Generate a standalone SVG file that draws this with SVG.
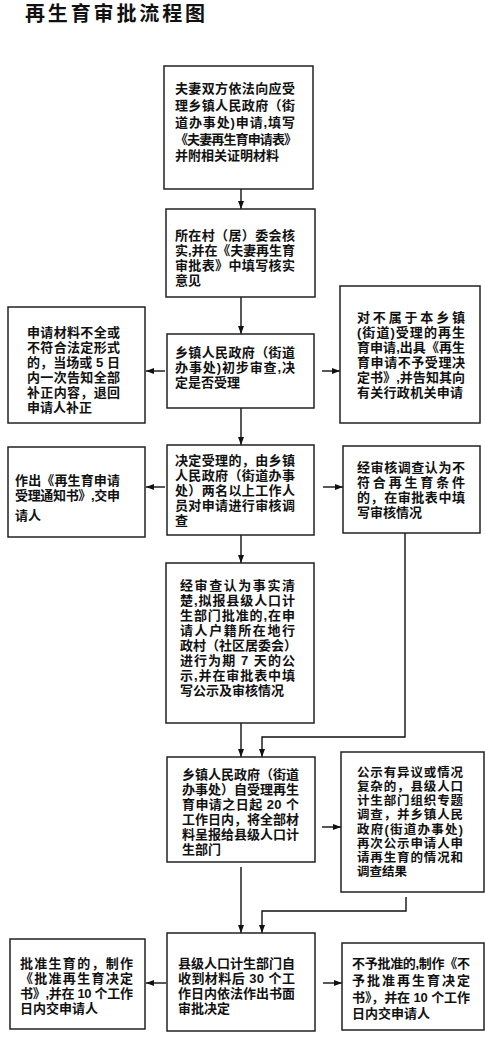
<svg xmlns="http://www.w3.org/2000/svg" width="485" height="1051" viewBox="0 0 485 1051">
<style>
.box{fill:#fff;stroke:#222;stroke-width:1.5}
.t{font-family:"Liberation Sans","Noto Sans CJK SC","Noto Sans CJK TC",sans-serif;font-weight:700;font-size:13px;fill:#111}
.s{font-size:12.5px}
.title{font-family:"Liberation Sans","Noto Sans CJK SC",sans-serif;font-weight:700;font-size:20px;fill:#111}
.c{fill:none;stroke:#111;stroke-width:1.4}
</style>
<defs>
<marker id="ah" markerUnits="userSpaceOnUse" markerWidth="8" markerHeight="6" refX="8" refY="3" orient="auto">
<path d="M0,0 L8,3 L0,6 z" fill="#111"/>
</marker>
</defs>
<rect width="485" height="1051" fill="#fff"/>
<text class="title" x="25" y="21" textLength="180">再生育审批流程图</text>

<g id="connectors">
<line class="c" x1="241" y1="189" x2="241" y2="209" marker-end="url(#ah)"/>
<line class="c" x1="241" y1="297" x2="241" y2="334" marker-end="url(#ah)"/>
<line class="c" x1="165" y1="371" x2="146" y2="371" marker-end="url(#ah)"/>
<line class="c" x1="322" y1="371" x2="340" y2="371" marker-end="url(#ah)"/>
<line class="c" x1="241" y1="408" x2="241" y2="445" marker-end="url(#ah)"/>
<line class="c" x1="165" y1="487" x2="146" y2="487" marker-end="url(#ah)"/>
<line class="c" x1="323" y1="487" x2="343" y2="487" marker-end="url(#ah)"/>
<line class="c" x1="241" y1="535" x2="241" y2="563" marker-end="url(#ah)"/>
<polyline class="c" points="405,533 405,737 262,737 262,757" marker-end="url(#ah)"/>
<line class="c" x1="241" y1="723" x2="241" y2="757" marker-end="url(#ah)"/>
<line class="c" x1="322" y1="827" x2="341" y2="827" marker-end="url(#ah)"/>
<line class="c" x1="241" y1="867" x2="241" y2="933" marker-end="url(#ah)"/>
<polyline class="c" points="406,897 406,911 262,911 262,933" marker-end="url(#ah)"/>
<line class="c" x1="166" y1="983" x2="146" y2="983" marker-end="url(#ah)"/>
<line class="c" x1="323" y1="983" x2="342" y2="983" marker-end="url(#ah)"/>
</g>

<g id="n1">
<rect class="box" x="164" y="66" width="149" height="123"/>
<text class="t"><tspan x="175" y="93" textLength="120">夫妻双方依法向应受</tspan><tspan x="175" y="110" textLength="120">理乡镇人民政府（街</tspan><tspan x="175" y="127" textLength="120">道办事处)申请,填写</tspan><tspan x="175" y="144" textLength="122">《夫妻再生育申请表》</tspan><tspan x="175" y="160">并附相关证明材料</tspan></text>
</g>

<g id="n2">
<rect class="box" x="166" y="209" width="149" height="88"/>
<text class="t"><tspan x="175" y="240" textLength="120">所在村（居）委会核</tspan><tspan x="175" y="255" textLength="120">实,并在《夫妻再生育</tspan><tspan x="175" y="270" textLength="120">审批表》中填写核实</tspan><tspan x="175" y="285">意见</tspan></text>
</g>

<g id="n3">
<rect class="box" x="167" y="334" width="147" height="74"/>
<text class="t"><tspan x="175" y="357" textLength="120">乡镇人民政府（街道</tspan><tspan x="175" y="372" textLength="120">办事处)初步审查,决</tspan><tspan x="175" y="387">定是否受理</tspan></text>
</g>

<g id="n3l">
<rect class="box" x="8" y="307" width="137" height="116"/>
<text class="t"><tspan x="27" y="337" textLength="93">申请材料不全或</tspan><tspan x="27" y="352" textLength="93">不符合法定形式</tspan><tspan x="27" y="367" textLength="93">的，当场或 5 日</tspan><tspan x="27" y="382" textLength="93">内一次告知全部</tspan><tspan x="27" y="397" textLength="93">补正内容，退回</tspan><tspan x="27" y="412">申请人补正</tspan></text>
</g>

<g id="n3r">
<rect class="box" x="340" y="286" width="140" height="137"/>
<text class="t"><tspan x="357" y="322" textLength="108">对不属于本乡镇</tspan><tspan x="357" y="337" textLength="108">(街道)受理的再生</tspan><tspan x="357" y="352" textLength="108">育申请,出具《再生</tspan><tspan x="357" y="367" textLength="108">育申请不予受理决</tspan><tspan x="357" y="382" textLength="108">定书》,并告知其向</tspan><tspan x="357" y="397" textLength="106">有关行政机关申请</tspan></text>
</g>

<g id="n4">
<rect class="box" x="167" y="445" width="147" height="90"/>
<text class="t"><tspan x="175" y="465" textLength="120">决定受理的，由乡镇</tspan><tspan x="175" y="480" textLength="120">人民政府（街道办事</tspan><tspan x="175" y="495" textLength="120">处）两名以上工作人</tspan><tspan x="175" y="510" textLength="120">员对申请进行审核调</tspan><tspan x="175" y="525">查</tspan></text>
</g>

<g id="n4l">
<rect class="box" x="8" y="447" width="137" height="90"/>
<text class="t"><tspan x="15" y="485" textLength="105">作出《再生育申请</tspan><tspan x="15" y="500" textLength="105">受理通知书》,交申</tspan><tspan x="15" y="520">请人</tspan></text>
</g>

<g id="n4r">
<rect class="box" x="343" y="446" width="137" height="87"/>
<text class="t"><tspan x="357" y="472" textLength="108">经审核调查认为不</tspan><tspan x="357" y="487" textLength="108">符合再生育条件</tspan><tspan x="357" y="502" textLength="108">的，在审批表中填</tspan><tspan x="357" y="517">写审核情况</tspan></text>
</g>

<g id="n5">
<rect class="box" x="166" y="563" width="148" height="160"/>
<text class="t"><tspan x="180" y="590" textLength="115">经审查认为事实清</tspan><tspan x="180" y="605" textLength="115">楚,拟报县级人口计</tspan><tspan x="180" y="620" textLength="115">生部门批准的,在申</tspan><tspan x="180" y="635" textLength="115">请人户籍所在地行</tspan><tspan x="180" y="650" textLength="117">政村（社区居委会）</tspan><tspan x="180" y="665" textLength="115">进行为期 7 天的公</tspan><tspan x="180" y="680" textLength="115">示,并在审批表中填</tspan><tspan x="180" y="695">写公示及审核情况</tspan></text>
</g>

<g id="n6">
<rect class="box" x="167" y="757" width="148" height="105"/>
<text class="t"><tspan x="182" y="779" textLength="117">乡镇人民政府（街道</tspan><tspan x="182" y="794" textLength="117">办事处）自受理再生</tspan><tspan x="182" y="809" textLength="117">育申请之日起 20 个</tspan><tspan x="182" y="824" textLength="117">工作日内，将全部材</tspan><tspan x="182" y="839" textLength="117">料呈报给县级人口计</tspan><tspan x="182" y="854">生部门</tspan></text>
</g>

<g id="n6r">
<rect class="box" x="341" y="752" width="143" height="140"/>
<text class="t s"><tspan x="357" y="777" textLength="106">公示有异议或情况</tspan><tspan x="357" y="791.1" textLength="106">复杂的，县级人口</tspan><tspan x="357" y="805.3" textLength="106">计生部门组织专题</tspan><tspan x="357" y="819.4" textLength="106">调查，并乡镇人民</tspan><tspan x="357" y="833.6" textLength="106">政府(街道办事处)</tspan><tspan x="357" y="847.7" textLength="106">再次公示申请人申</tspan><tspan x="357" y="861.9" textLength="106">请再生育的情况和</tspan><tspan x="357" y="876">调查结果</tspan></text>
</g>

<g id="n7">
<rect class="box" x="167" y="933" width="148" height="98"/>
<text class="t"><tspan x="178" y="968" textLength="117">县级人口计生部门自</tspan><tspan x="178" y="983" textLength="117">收到材料后 30 个工</tspan><tspan x="178" y="998" textLength="117">作日内依法作出书面</tspan><tspan x="178" y="1013">审批决定</tspan></text>
</g>

<g id="n7l">
<rect class="box" x="10" y="939" width="135" height="90"/>
<text class="t"><tspan x="20" y="968" textLength="113">批准生育的，制作</tspan><tspan x="20" y="983" textLength="113">《批准再生育决定</tspan><tspan x="20" y="998" textLength="113">书》,并在 10 个工作</tspan><tspan x="20" y="1013">日内交申请人</tspan></text>
</g>

<g id="n7r">
<rect class="box" x="342" y="943" width="142" height="87"/>
<text class="t"><tspan x="352" y="968" textLength="118">不予批准的,制作《不</tspan><tspan x="352" y="985" textLength="118">予批准再生育决定</tspan><tspan x="352" y="1002" textLength="118">书》，并在 10 个工作</tspan><tspan x="352" y="1018">日内交申请人</tspan></text>
</g>
</svg>
